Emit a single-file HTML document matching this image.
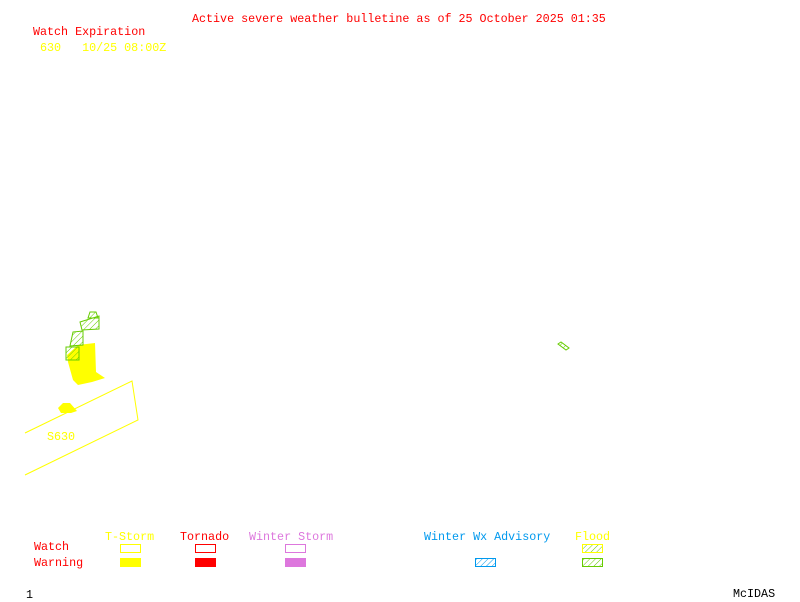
<!DOCTYPE html>
<html><head><meta charset="utf-8"><style>
body{margin:0;background:#fff;width:800px;height:600px;overflow:hidden;position:relative}
.t{position:absolute;font-family:"Liberation Mono",monospace;font-size:11.7px;line-height:12px;white-space:pre}
</style></head><body>
<div class="t" style="left:192px;top:13px;color:#f00">Active severe weather bulletine as of 25 October 2025 01:35</div>
<div class="t" style="left:33px;top:26px;color:#f00">Watch Expiration</div>
<div class="t" style="left:40px;top:42px;color:#ff0">630   10/25 08:00Z</div>
<svg width="800" height="600" style="position:absolute;left:0;top:0">
<defs><pattern id="h" width="4" height="4" patternUnits="userSpaceOnUse" patternTransform="rotate(45)"><line x1="0" y1="0" x2="0" y2="4" stroke="#6c0" stroke-width="1"/></pattern>
<pattern id="hb" width="4" height="4" patternUnits="userSpaceOnUse" patternTransform="rotate(45)"><line x1="0" y1="0" x2="0" y2="4" stroke="#09e" stroke-width="1"/></pattern></defs>
<polygon points="78,345 95,343 96,372 105,378 92,382 78,385 73,380 68,362 67,355" fill="#ff0"/>
<polygon points="58,408 63,403 70,403 77,411 71,413 61,413" fill="#ff0"/>
<polyline points="25,433 132,381 138,420 25,475" fill="none" stroke="#ff0" stroke-width="1"/>
<g stroke="#6c0" fill="url(#h)" stroke-width="1">
<polygon points="80,322 99,316 99,329 82,330"/>
<polygon points="90,312 96,312 98,318 88,318"/>
<polygon points="73,332 83,331 83,345 70,346"/>
<polygon points="66,347 79,347 79,360 66,360"/>
<polygon points="558,344 561,342 569,348 566,350"/>
</g>
<g stroke-width="1">
<rect x="120.5" y="544.5" width="20" height="8" fill="none" stroke="#ff0"/>
<rect x="195.5" y="544.5" width="20" height="8" fill="none" stroke="#f00"/>
<rect x="285.5" y="544.5" width="20" height="8" fill="none" stroke="#d7d"/>
<rect x="582.5" y="544.5" width="20" height="8" fill="url(#h)" stroke="#ff0"/>
<rect x="120" y="558" width="21" height="9" fill="#ff0"/>
<rect x="195" y="558" width="21" height="9" fill="#f00"/>
<rect x="285" y="558" width="21" height="9" fill="#d7d"/>
<rect x="475.5" y="558.5" width="20" height="8" fill="url(#hb)" stroke="#09e"/>
<rect x="582.5" y="558.5" width="20" height="8" fill="url(#h)" stroke="#6c0"/>
</g>
</svg>
<div class="t" style="left:47px;top:431px;color:#ff0">S630</div>
<div class="t" style="left:105px;top:531px;color:#ff0">T-Storm</div>
<div class="t" style="left:180px;top:531px;color:#f00">Tornado</div>
<div class="t" style="left:249px;top:531px;color:#d7d">Winter Storm</div>
<div class="t" style="left:424px;top:531px;color:#09e">Winter Wx Advisory</div>
<div class="t" style="left:575px;top:531px;color:#ff0">Flood</div>
<div class="t" style="left:34px;top:541px;color:#f00">Watch</div>
<div class="t" style="left:34px;top:557px;color:#f00">Warning</div>
<div class="t" style="left:26px;top:589px;color:#000">1</div>
<div class="t" style="left:733px;top:588px;color:#000">McIDAS</div>
</body></html>
